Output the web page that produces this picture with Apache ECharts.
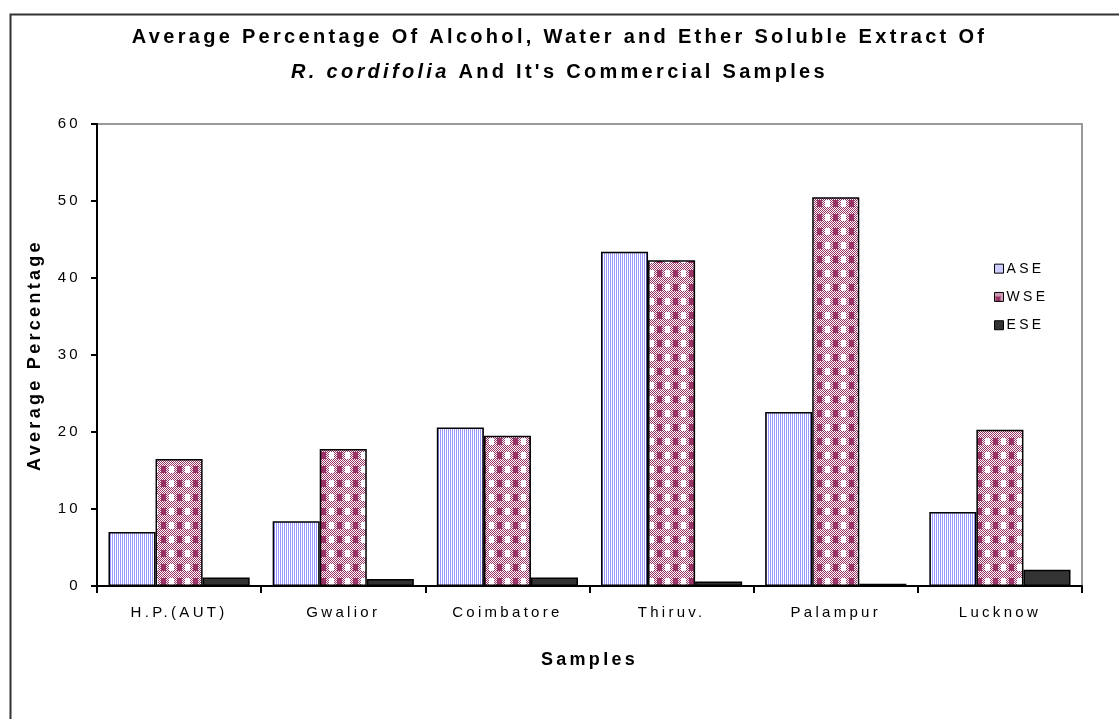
<!DOCTYPE html>
<html>
<head>
<meta charset="utf-8">
<script src="https://cdn.jsdelivr.net/npm/echarts@6/dist/echarts.min.js"></script>
<style>
html,body{margin:0;padding:0;background:#fff;}
#chart{width:1119px;height:719px;}
</style>
</head>
<body>
<div id="chart"></div>
<script>
const categories = ['H.P.(AUT)', 'Gwalior', 'Coimbatore', 'Thiruv.', 'Palampur', 'Lucknow'];
const seriesNames = ['ASE', 'WSE', 'ESE'];
const aseValues = [7.0, 8.4, 20.6, 43.4, 22.6, 9.6];
const wseValues = [16.5, 17.8, 19.5, 42.3, 50.5, 20.3];
const eseValues = [1.1, 0.9, 1.1, 0.6, 0.3, 2.1];
const yTicks = [0, 10, 20, 30, 40, 50, 60];

// Wide letter spacing like the original Excel rendering (applied to measuring and drawing alike)
(function () {
  const proto = CanvasRenderingContext2D.prototype;
  const desc = Object.getOwnPropertyDescriptor(proto, 'font');
  if (desc && desc.set && ('letterSpacing' in proto)) {
    Object.defineProperty(proto, 'font', {
      configurable: true,
      get() { return desc.get.call(this); },
      set(v) {
        desc.set.call(this, v);
        this.letterSpacing = '3.3px';
      }
    });
  }
})();

function makeStripe() {
  const c = document.createElement('canvas');
  c.width = 2; c.height = 2;
  const g = c.getContext('2d');
  g.fillStyle = '#ffffff'; g.fillRect(0, 0, 2, 2);
  g.fillStyle = '#9999ff'; g.fillRect(0, 0, 1, 2);
  return c;
}
function makePlaid() {
  const w = 16, h = 14;
  const c = document.createElement('canvas');
  c.width = w; c.height = h;
  const g = c.getContext('2d');
  for (let y = 0; y < h; y++) {
    for (let x = 0; x < w; x++) {
      g.fillStyle = ((x + y) % 2 === 0) ? '#993366' : '#ffffff';
      g.fillRect(x, y, 1, 1);
    }
  }
  g.fillStyle = '#993366'; g.fillRect(1, 4, 5, 7);
  g.fillStyle = '#ffffff'; g.fillRect(9, 4, 5, 7);
  return c;
}

const chart = echarts.init(document.getElementById('chart'), null, {renderer: 'canvas'});
const font = '"Liberation Sans", Arial, sans-serif';
const values = [aseValues, wseValues, eseValues];
const colors = [
  {image: makeStripe(), repeat: 'repeat'},
  {image: makePlaid(), repeat: 'repeat'},
  '#333333'
];

chart.setOption({
  animation: false,
  backgroundColor: '#ffffff',
  graphic: [{
    type: 'rect', left: 8, top: 12, silent: true,
    shape: {width: 1200, height: 800},
    style: {fill: 'none', stroke: '#333333', lineWidth: 2}
  }],
  title: {
    text: 'Average Percentage Of Alcohol, Water and Ether Soluble Extract Of\n{i|R. cordifolia} And It\'s Commercial Samples',
    left: 'center',
    top: 15,
    textStyle: {
      fontFamily: font, fontSize: 20, fontWeight: 'bold', color: '#000', lineHeight: 35,
      rich: {i: {fontFamily: font, fontSize: 20, fontWeight: 'bold', fontStyle: 'italic', color: '#000', lineHeight: 35}}
    }
  },
  legend: {
    orient: 'vertical',
    left: 989,
    top: 255,
    itemWidth: 9,
    itemHeight: 9,
    itemGap: 11,
    icon: 'rect',
    data: seriesNames,
    textStyle: {fontFamily: font, fontSize: 14, color: '#000', padding: [0, 0, 0, -2]},
    itemStyle: {borderColor: '#000', borderWidth: 1}
  },
  grid: {
    left: 97, top: 124, right: 37, bottom: 133,
    show: true, borderColor: '#999999', borderWidth: 2, backgroundColor: '#ffffff'
  },
  xAxis: {
    type: 'category',
    data: categories,
    name: 'Samples',
    nameLocation: 'middle',
    nameGap: 63,
    nameTextStyle: {fontFamily: font, fontSize: 18, fontWeight: 'bold', color: '#000'},
    axisLine: {lineStyle: {color: '#000', width: 2}},
    axisTick: {show: true, length: 7, lineStyle: {color: '#000', width: 2}},
    axisLabel: {fontFamily: font, fontSize: 15, color: '#000', margin: 18}
  },
  yAxis: {
    type: 'value',
    min: yTicks[0],
    max: yTicks[yTicks.length - 1],
    interval: 10,
    name: 'Average Percentage',
    nameLocation: 'middle',
    nameGap: 51,
    nameTextStyle: {fontFamily: font, fontSize: 18, fontWeight: 'bold', color: '#000'},
    axisLine: {show: true, lineStyle: {color: '#000', width: 2}},
    axisTick: {show: true, length: 6, lineStyle: {color: '#000', width: 2}},
    axisLabel: {fontFamily: font, fontSize: 15, color: '#000', margin: 16},
    splitLine: {show: false}
  },
  series: seriesNames.map((n, i) => ({
    name: n,
    type: 'bar',
    data: values[i],
    barGap: '0%',
    barCategoryGap: '14%',
    itemStyle: {color: colors[i], borderColor: '#000', borderWidth: 1.5}
  }))
});
</script>
</body>
</html>
